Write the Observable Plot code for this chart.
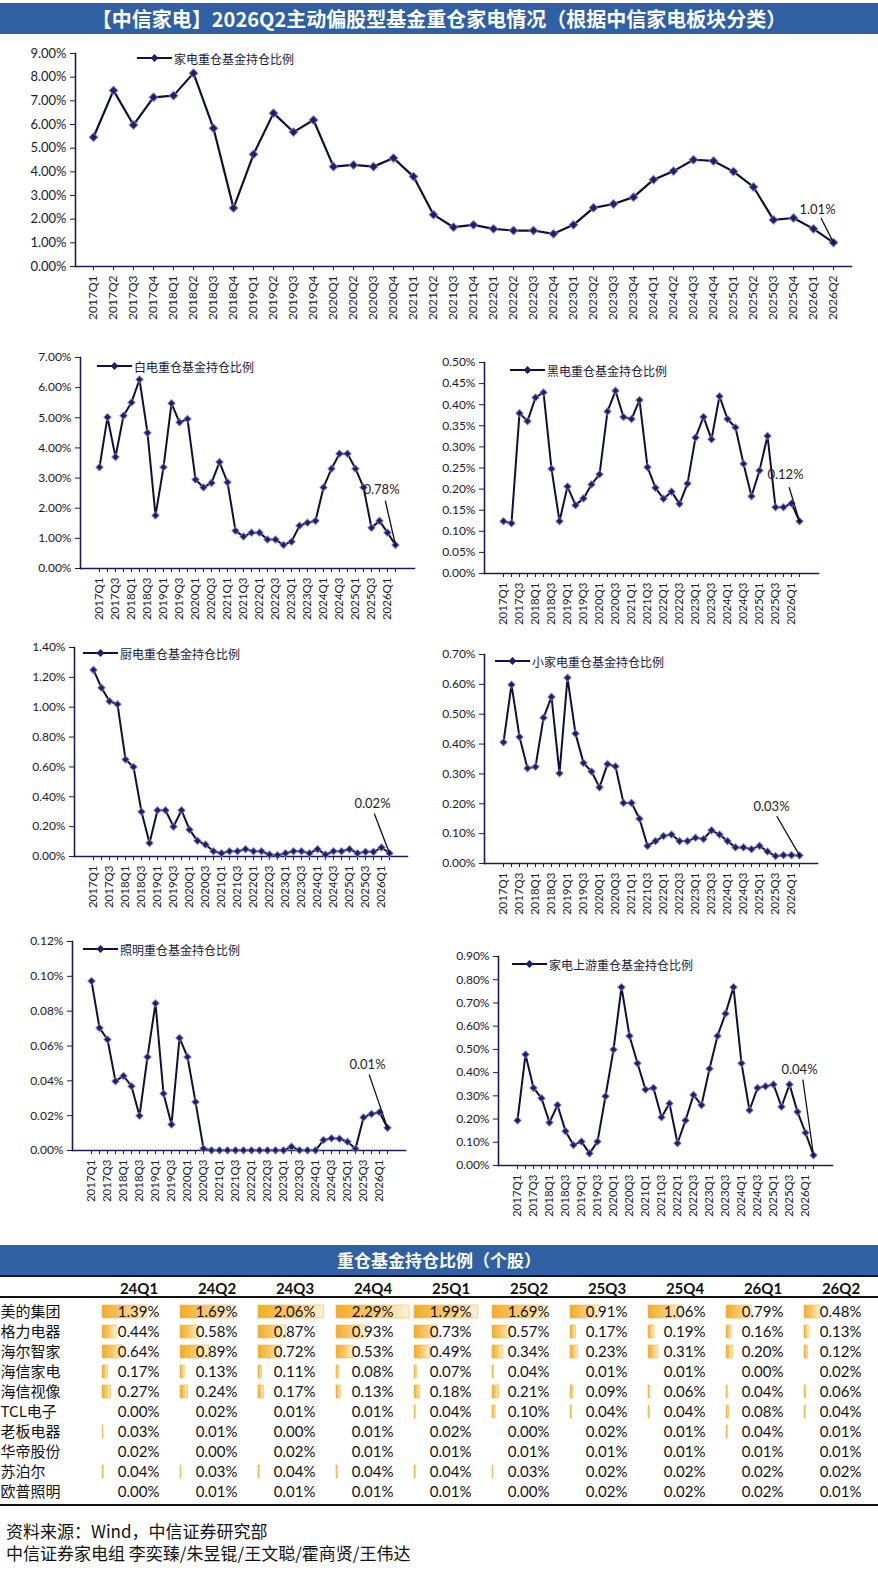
<!DOCTYPE html>
<html><head><meta charset="utf-8">
<script src="https://cdn.jsdelivr.net/npm/d3@7"></script>
<script src="https://cdn.jsdelivr.net/npm/@observablehq/plot@0.6"></script>
<style>
body{margin:0;background:#fff;}
#page{position:relative;width:878px;height:1586px;overflow:hidden;background:#fff;font-family:"Noto Sans CJK SC","Noto Sans",sans-serif;}
.chart{position:absolute;}
.chart svg{overflow:visible;}
.band{position:absolute;left:0;width:878px;background:#2f60a4;color:#fff;font-weight:700;text-align:center;}
.legend{position:absolute;display:flex;align-items:center;font-size:12px;color:#1a1a3a;height:16px;white-space:nowrap;}
.legend svg{margin-right:1px;}
.hline{position:absolute;left:0;width:878px;background:#111;}
.src{position:absolute;left:6px;font-size:17px;color:#111;white-space:nowrap;}
</style></head>
<body>
<svg width="0" height="0" style="position:absolute"><defs>
<linearGradient id="dbar" x1="0" x2="1" y1="0" y2="0">
<stop offset="0" stop-color="#f1ac2a"/><stop offset="0.55" stop-color="#f6cb72"/><stop offset="1" stop-color="#fdf3dd"/>
</linearGradient></defs></svg>
<div id="page">
  <div class="band" style="top:3px;height:31px;line-height:31px;font-size:20px;">【中信家电】2026Q2主动偏股型基金重仓家电情况（根据中信家电板块分类）</div>
  <div class="band" style="top:1245px;height:30px;line-height:30px;font-size:17px;">重仓基金持仓比例（个股）</div>
  <div class="hline" style="top:1275px;height:1.5px;"></div>
  <div class="hline" style="top:1296px;height:2px;"></div>
  <div class="hline" style="top:1504px;height:2px;"></div>
  <div class="src" style="top:1518px;">资料来源：Wind，中信证券研究部</div>
  <div class="src" style="top:1540px;">中信证券家电组 李奕臻/朱昱锟/王文聪/霍商贤/王伟达</div>
</div>
<script>
// ---------- data ----------
const quarters = ["2017Q1","2017Q2","2017Q3","2017Q4","2018Q1","2018Q2","2018Q3","2018Q4",
  "2019Q1","2019Q2","2019Q3","2019Q4","2020Q1","2020Q2","2020Q3","2020Q4",
  "2021Q1","2021Q2","2021Q3","2021Q4","2022Q1","2022Q2","2022Q3","2022Q4",
  "2023Q1","2023Q2","2023Q3","2023Q4","2024Q1","2024Q2","2024Q3","2024Q4",
  "2025Q1","2025Q2","2025Q3","2025Q4","2026Q1","2026Q2"];

const applianceTotal = [5.46,7.44,5.98,7.15,7.22,8.17,5.84,2.47,4.74,6.48,5.68,6.19,4.22,4.29,4.22,4.58,
  3.80,2.19,1.66,1.76,1.59,1.52,1.52,1.38,1.76,2.48,2.64,2.93,3.67,4.03,4.51,4.46,4.01,3.36,1.97,2.05,1.59,1.01];
const whiteGoods = [3.36,5.02,3.70,5.07,5.51,6.27,4.50,1.76,3.36,5.48,4.85,4.96,2.95,2.69,2.84,3.53,
  2.86,1.25,1.06,1.19,1.19,0.96,0.96,0.78,0.89,1.42,1.52,1.58,2.69,3.31,3.81,3.81,3.31,2.69,1.35,1.58,1.19,0.78];
const blackGoods = [0.124,0.119,0.380,0.361,0.417,0.429,0.248,0.124,0.206,0.162,0.178,0.211,0.235,0.384,0.433,0.371,
  0.366,0.411,0.252,0.203,0.177,0.194,0.165,0.213,0.322,0.371,0.318,0.420,0.366,0.346,0.260,0.183,0.244,0.326,0.157,0.157,0.166,0.124];
const kitchen = [1.25,1.13,1.04,1.02,0.65,0.60,0.30,0.09,0.31,0.31,0.20,0.31,0.18,0.105,0.08,0.035,
  0.022,0.035,0.035,0.049,0.035,0.035,0.013,0.009,0.022,0.035,0.035,0.022,0.049,0.013,0.035,0.035,0.049,0.022,0.031,0.031,0.060,0.022];
const smallAppl = [0.406,0.599,0.424,0.319,0.324,0.488,0.558,0.302,0.622,0.435,0.337,0.308,0.255,0.333,0.325,0.203,
  0.203,0.150,0.059,0.075,0.092,0.097,0.075,0.075,0.086,0.082,0.111,0.097,0.075,0.054,0.054,0.048,0.059,0.040,0.025,0.028,0.028,0.027];
const lighting = [0.0973,0.0704,0.0637,0.0398,0.0428,0.0369,0.0199,0.0537,0.0845,0.0327,0.0149,0.0646,0.0537,0.0279,0.0011,0.0001,
  0.0001,0.0001,0.0001,0.0001,0.0001,0.0001,0.0001,0.0001,0.0001,0.0022,0.0002,0.0001,0.0001,0.0060,0.0070,0.0068,0.0050,0.0010,0.0190,0.0210,0.0220,0.0130];
const upstream = [0.194,0.478,0.334,0.290,0.185,0.260,0.148,0.088,0.103,0.052,0.103,0.298,0.499,0.768,0.558,0.440,
  0.327,0.334,0.208,0.267,0.096,0.194,0.304,0.260,0.417,0.558,0.654,0.768,0.440,0.238,0.334,0.341,0.349,0.253,0.349,0.231,0.141,0.044];

const seriesNames = ["家电重仓基金持仓比例","白电重仓基金持仓比例","黑电重仓基金持仓比例","厨电重仓基金持仓比例",
  "小家电重仓基金持仓比例","照明重仓基金持仓比例","家电上游重仓基金持仓比例"];

const tableQuarters = ["24Q1","24Q2","24Q3","24Q4","25Q1","25Q2","25Q3","25Q4","26Q1","26Q2"];
const companies = ["美的集团","格力电器","海尔智家","海信家电","海信视像","TCL电子","老板电器","华帝股份","苏泊尔","欧普照明"];
const midea   = [1.39,1.69,2.06,2.29,1.99,1.69,0.91,1.06,0.79,0.48];
const gree    = [0.44,0.58,0.87,0.93,0.73,0.57,0.17,0.19,0.16,0.13];
const haier   = [0.64,0.89,0.72,0.53,0.49,0.34,0.23,0.31,0.20,0.12];
const hisenseHA = [0.17,0.13,0.11,0.08,0.07,0.04,0.01,0.01,0.00,0.02];
const hisenseV  = [0.27,0.24,0.17,0.13,0.18,0.21,0.09,0.06,0.04,0.06];
const tcl     = [0.00,0.02,0.01,0.01,0.04,0.10,0.04,0.04,0.08,0.04];
const robam   = [0.03,0.01,0.00,0.01,0.02,0.00,0.02,0.01,0.04,0.01];
const vatti   = [0.02,0.00,0.02,0.01,0.01,0.01,0.01,0.01,0.01,0.01];
const supor   = [0.04,0.03,0.04,0.04,0.04,0.03,0.02,0.02,0.02,0.02];
const opple   = [0.00,0.01,0.01,0.01,0.01,0.00,0.02,0.02,0.02,0.01];
const companyRows = [midea,gree,haier,hisenseHA,hisenseV,tcl,robam,vatti,supor,opple];

// ---------- helpers ----------
const page = document.getElementById("page");
const pct = d => d.toFixed(2) + "%";

function place(node, left, top) {
  const div = document.createElement("div");
  div.className = "chart";
  div.style.left = left + "px";
  div.style.top = top + "px";
  div.appendChild(node);
  page.appendChild(div);
}

function legend(text, left, cy) {
  const div = document.createElement("div");
  div.className = "legend";
  div.style.left = left + "px";
  div.style.top = (cy - 8) + "px";
  div.innerHTML = '<svg width="36" height="12"><line x1="0" x2="35" y1="6" y2="6" stroke="#10103e" stroke-width="2"/>' +
    '<path d="M17.5 2 L21.5 6 L17.5 10 L13.5 6 Z" fill="#1e1e6e"/></svg>';
  const span = document.createElement("span");
  span.textContent = text;
  div.appendChild(span);
  page.appendChild(div);
}

function lineChart(values, c) {
  const data = quarters.map((q, i) => ({q, v: values[i]}));
  const last = data[data.length - 1];
  return Plot.plot({
    width: c.w, height: c.h,
    marginLeft: c.ml, marginRight: c.mr, marginTop: c.mt, marginBottom: c.mb,
    x: {type: "band", domain: quarters, padding: 0},
    y: {domain: [0, c.max]},
    style: {fontFamily: "Lato, 'Noto Sans', sans-serif", color: "#1a1a2a", background: "transparent", overflow: "visible"},
    marks: [
      Plot.axisY({ticks: d3.range(0, c.max + c.step / 2, c.step), tickFormat: pct, tickSize: 5, fontSize: c.fy, label: null, stroke: "#1c1c55"}),
      Plot.axisX({tickRotate: -90, tickSize: 4, fontSize: c.fx, label: null, stroke: "#1c1c55",
        tickFormat: c.alt ? (d => quarters.indexOf(d) % 2 ? "" : d) : (d => d)}),
      Plot.frame({anchor: "left", stroke: "#1c1c55", strokeWidth: 1.6}),
      Plot.frame({anchor: "bottom", stroke: "#1c1c55", strokeWidth: 1.6}),
      Plot.line(data, {x: "q", y: "v", stroke: "#0f0f3a", strokeWidth: c.sw}),
      Plot.dot(data, {x: "q", y: "v", symbol: "diamond2", r: c.r, fill: "#1e1e6e", stroke: "#8f93d2", strokeWidth: 1.2, strokeOpacity: 0.6}),
      Plot.vector([last], {x: "q", y: "v", length: c.len, rotate: c.rot, shape: "spike", r: 0, anchor: "start", stroke: "#111", strokeWidth: 1.3, fill: "none"}),
      Plot.text([last], {x: "q", y: "v", text: d => pct(d.v), dx: c.ldx, dy: c.ldy, fontSize: 13, fill: "#222"})
    ]
  });
}

// ---------- charts ----------
place(lineChart(applianceTotal, {w: 878, h: 295, ml: 75, mr: 27, mt: 18, mb: 64, max: 9, step: 1, fy: 13, fx: 12, alt: false, sw: 2.2, r: 4, len: 27, rot: -27, ldx: -16, ldy: -33}), 0, 35);
legend(seriesNames[0], 137, 58);

place(lineChart(whiteGoods, {w: 430, h: 285, ml: 80, mr: 16, mt: 17, mb: 57, max: 7, step: 1, fy: 12, fx: 11.5, alt: true, sw: 2, r: 3.4, len: 45, rot: -13, ldx: -14, ldy: -55}), 0, 340);
legend(seriesNames[1], 97, 366);

place(lineChart(blackGoods, {w: 448, h: 285, ml: 54, mr: 60, mt: 22, mb: 52, max: 0.5, step: 0.05, fy: 12, fx: 11.5, alt: true, sw: 2, r: 3.4, len: 35, rot: -17, ldx: -14, ldy: -46}), 430, 340);
legend(seriesNames[2], 510, 370);

place(lineChart(kitchen, {w: 430, h: 290, ml: 74, mr: 23, mt: 22, mb: 59, max: 1.4, step: 0.2, fy: 12, fx: 11.5, alt: true, sw: 2, r: 3.4, len: 42, rot: -21, ldx: -17, ldy: -49}), 0, 625);
legend(seriesNames[3], 83, 653);

place(lineChart(smallAppl, {w: 448, h: 290, ml: 54, mr: 61, mt: 29, mb: 52, max: 0.7, step: 0.1, fy: 12, fx: 11.5, alt: true, sw: 2, r: 3.4, len: 45, rot: -30, ldx: -28, ldy: -49}), 430, 625);
legend(seriesNames[4], 495, 661);

place(lineChart(lighting, {w: 430, h: 300, ml: 72, mr: 25, mt: 26, mb: 65, max: 0.12, step: 0.02, fy: 12, fx: 11.5, alt: true, sw: 2, r: 3.4, len: 56, rot: -19, ldx: -20, ldy: -63}), 0, 915);
legend(seriesNames[5], 83, 949);

place(lineChart(upstream, {w: 448, h: 300, ml: 68, mr: 46, mt: 41, mb: 50, max: 0.9, step: 0.1, fy: 12, fx: 11.5, alt: true, sw: 2, r: 3.4, len: 76, rot: -8, ldx: -14, ldy: -85}), 430, 915);
legend(seriesNames[6], 512, 964);

// ---------- table ----------
const tableData = companies.flatMap((name, i) => tableQuarters.map((q, j) => ({name, q, v: companyRows[i][j]})));
const table = Plot.plot({
  width: 878, height: 229,
  marginLeft: 101, marginRight: 0, marginTop: 21, marginBottom: 0,
  fx: {domain: tableQuarters, paddingInner: 0.07, paddingOuter: 0},
  y: {domain: companies, paddingInner: 0.35, paddingOuter: 0.175},
  x: {domain: [0, 2.29], axis: null},
  style: {fontFamily: "Lato, 'Noto Sans CJK SC', sans-serif", color: "#111", background: "transparent", overflow: "visible"},
  marks: [
    Plot.axisFx({anchor: "top", tickSize: 0, tickPadding: 4, fontSize: 15, fontWeight: "bold", label: null}),
    Plot.axisY({tickSize: 0, textAnchor: "start", dx: -93, fontSize: 15, label: null, fontFamily: "'Noto Sans CJK SC', sans-serif"}),
    Plot.barX(tableData.filter(d => d.v > 0.02), {fx: "q", y: "name", x: "v", fill: "url(#dbar)", stroke: "#f0b545", strokeWidth: 0.6}),
    Plot.text(tableData, {fx: "q", y: "name", text: d => pct(d.v), frameAnchor: "right", dx: -16, textAnchor: "end", fontSize: 15, fill: "#111"})
  ]
});
place(table, 0, 1276);
</script>
</body></html>
